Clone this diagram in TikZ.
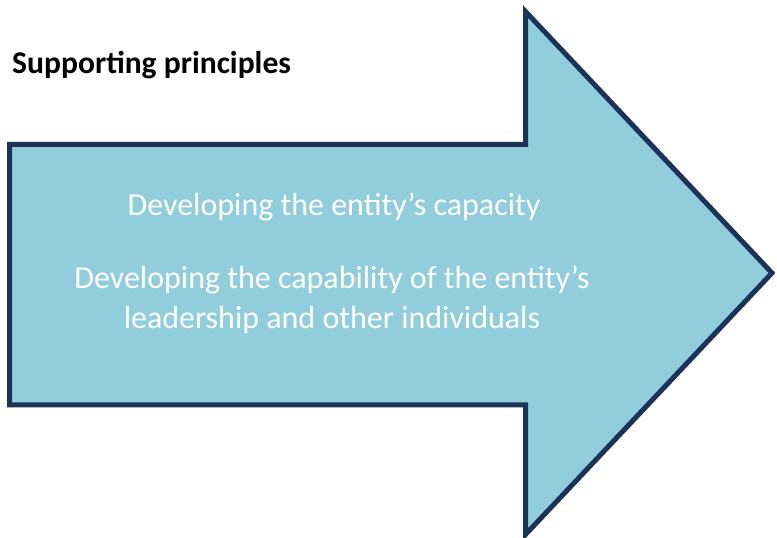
\documentclass[tikz,border=0pt]{standalone}
\usepackage{fontspec}
\setmainfont{Carlito}
\definecolor{arrowfill}{HTML}{92CDDC}
\definecolor{arrowline}{HTML}{1B3358}
\begin{document}
\begin{tikzpicture}[x=1pt,y=1pt,
  bodytext/.style={text=white,font=\fontsize{32}{40}\selectfont,align=center,inner sep=0pt},
  titletext/.style={text=black,font=\bfseries\fontsize{31.6}{38}\selectfont,inner sep=0pt}]
\useasboundingbox (0,0) rectangle (777,538);
\draw[fill=arrowfill,draw=arrowline,line width=5pt,line join=miter,miter limit=10]
  (9.5,133) -- (525.5,133) -- (525.5,3.5) -- (772,265) -- (525.5,526.5) -- (525.5,393.5) -- (9.5,393.5) -- cycle;
\node[titletext,anchor=west] (title) at (12,473) {Supporting principles};
\node[bodytext] (cap1) at (334,331) {Developing the entity’s capacity};
\node[bodytext] (cap2) at (332,238) {Developing the capability of the entity’s\\leadership and other individuals};
\end{tikzpicture}
\end{document}
